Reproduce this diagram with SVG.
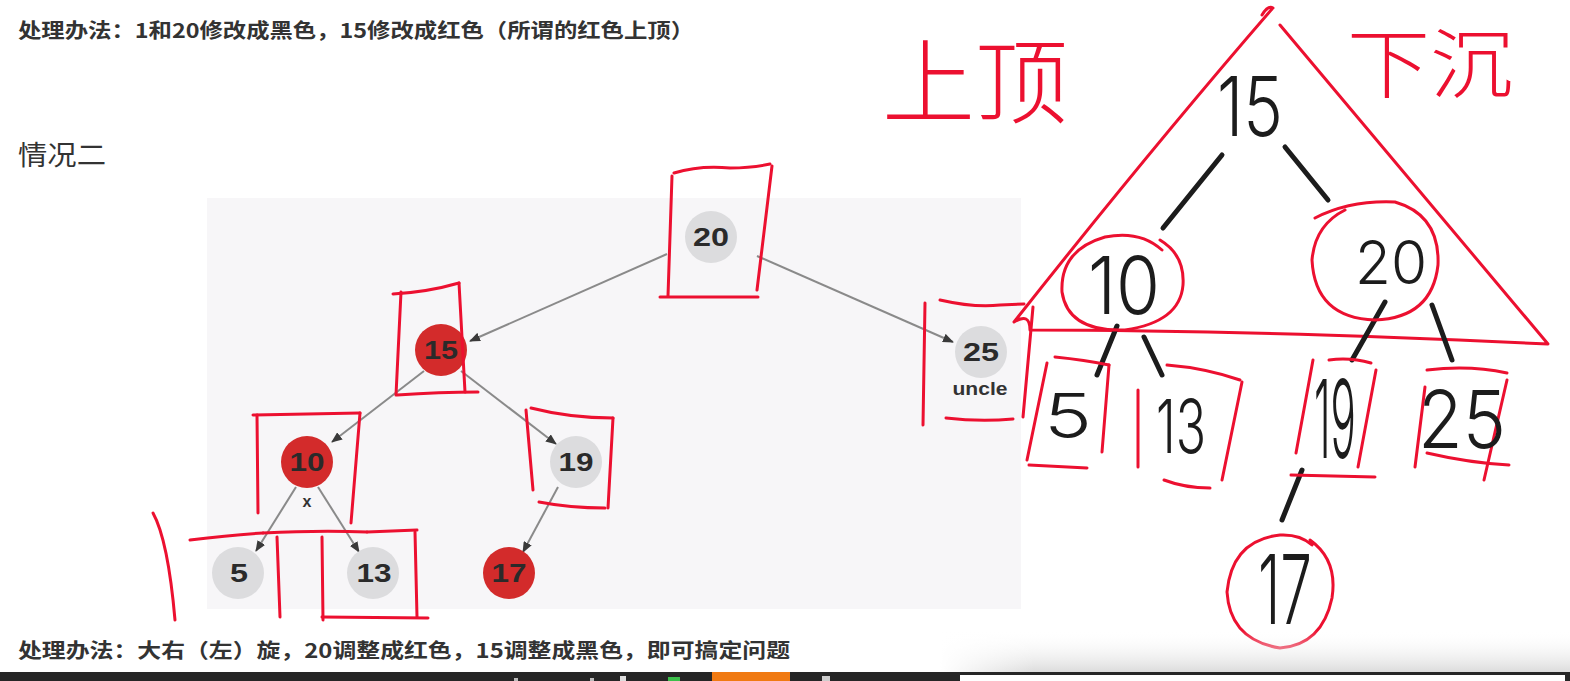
<svg xmlns="http://www.w3.org/2000/svg" width="1570" height="681" viewBox="0 0 1570 681">
<defs>
<marker id="arr" markerUnits="userSpaceOnUse" markerWidth="11" markerHeight="9" refX="10" refY="4.5" orient="auto">
<path d="M0,0 L11,4.5 L0,9 z" fill="#3a3a3a"/>
</marker>
<linearGradient id="shade" x1="0" y1="0" x2="0" y2="1">
<stop offset="0" stop-color="#ffffff" stop-opacity="0"/>
<stop offset="1" stop-color="#dcdcdc"/>
</linearGradient>
<linearGradient id="shadeL" x1="0" y1="0" x2="1" y2="0">
<stop offset="0" stop-color="#ffffff"/>
<stop offset="0.15" stop-color="#ffffff" stop-opacity="0"/>
</linearGradient>
<style>
.doc{font-family:"Noto Sans CJK SC","Liberation Sans",sans-serif;fill:#333}
.nodeG{fill:#dcdcde}
.nodeR{fill:#d32b2b}
.num{font-family:"Liberation Sans",Arial,sans-serif;font-weight:bold;font-size:25px;fill:#2a2a2a;text-anchor:middle}
.lbl{font-family:"Liberation Sans",Arial,sans-serif;font-weight:bold;fill:#333;text-anchor:middle}
.edge{stroke:#8a8a8a;stroke-width:2;fill:none;marker-end:url(#arr)}
.pen{stroke:#ec1030;stroke-width:3;fill:none;stroke-linecap:round;stroke-linejoin:round}
.ink{stroke:#1c1c1c;stroke-width:5;fill:none;stroke-linecap:round}
.hw{font-family:Inter,"Noto Sans","DejaVu Sans",sans-serif;fill:#1c1c1c;font-weight:350}
.hwr{font-family:"Noto Sans CJK SC",sans-serif;fill:#ec1030;font-weight:300}
</style>
</defs>
<rect width="1570" height="681" fill="#ffffff"/>

<!-- document text -->
<text class="doc" x="18" y="38" font-size="20" font-weight="bold" textLength="676" lengthAdjust="spacingAndGlyphs">处理办法：1和20修改成黑色，15修改成红色（所谓的红色上顶）</text>
<text class="doc" x="18" y="165" font-size="27" textLength="88" lengthAdjust="spacingAndGlyphs">情况二</text>
<text class="doc" x="18" y="658" font-size="20" font-weight="bold" textLength="772" lengthAdjust="spacingAndGlyphs">处理办法：大右（左）旋，20调整成红色，15调整成黑色，即可搞定问题</text>

<!-- panel -->
<rect x="207" y="198" width="814" height="411" fill="#f7f6f8"/>

<!-- connectors -->
<g id="connectors">
<path class="edge" d="M667,254 L470,341"/>
<path class="edge" d="M757,256 L953,342"/>
<path class="edge" d="M424,371 L332,442"/>
<path class="edge" d="M461,371 L556,444"/>
<path class="edge" d="M296,487 L256,551"/>
<path class="edge" d="M318,487 L359,552"/>
<path class="edge" d="M558,487 L523,552"/>
</g>

<g id="node-20"><circle class="nodeG" cx="711" cy="237" r="26"/><text class="num" x="711" y="246" textLength="36" lengthAdjust="spacingAndGlyphs">20</text></g>
<g id="node-15"><circle class="nodeR" cx="441" cy="350" r="26"/><text class="num" x="441" y="359" textLength="34" lengthAdjust="spacingAndGlyphs">15</text></g>
<g id="node-25"><circle class="nodeG" cx="981" cy="352" r="26"/><text class="num" x="981" y="361" textLength="36" lengthAdjust="spacingAndGlyphs">25</text><text class="lbl" x="980" y="395" font-size="18" textLength="55" lengthAdjust="spacingAndGlyphs">uncle</text></g>
<g id="node-10"><circle class="nodeR" cx="307" cy="462" r="26"/><text class="num" x="307" y="471" textLength="35" lengthAdjust="spacingAndGlyphs">10</text><text class="lbl" x="307" y="507" font-size="16">x</text></g>
<g id="node-19"><circle class="nodeG" cx="576" cy="462" r="26"/><text class="num" x="576" y="471" textLength="35" lengthAdjust="spacingAndGlyphs">19</text></g>
<g id="node-5"><circle class="nodeG" cx="238" cy="573" r="26"/><text class="num" x="239" y="582" textLength="18" lengthAdjust="spacingAndGlyphs">5</text></g>
<g id="node-13"><circle class="nodeG" cx="373" cy="573" r="26"/><text class="num" x="374" y="582" textLength="35" lengthAdjust="spacingAndGlyphs">13</text></g>
<g id="node-17"><circle class="nodeR" cx="509" cy="573" r="26"/><text class="num" x="509" y="582" textLength="35" lengthAdjust="spacingAndGlyphs">17</text></g>

<!-- red pen annotations over the tree -->
<g id="pen-boxes-left">
<path class="pen" d="M672,176 L668,296"/>
<path class="pen" d="M674,173 Q700,165 730,168 Q752,168 770,164"/>
<path class="pen" d="M772,166 L757,290"/>
<path class="pen" d="M660,297 L758,297"/>

<path class="pen" d="M401,292 L396,395"/>
<path class="pen" d="M393,294 Q428,292 459,283"/>
<path class="pen" d="M459,283 L465,392"/>
<path class="pen" d="M397,395 Q440,392 478,392" stroke-width="5"/>

<path class="pen" d="M925,303 L923,425"/>
<path class="pen" d="M940,300 Q975,308 1000,305 L1024,304"/>
<path class="pen" d="M1033,307 L1023,417"/>
<path class="pen" d="M946,418 Q980,422 1013,419"/>

<path class="pen" d="M257,415 L258,513"/>
<path class="pen" d="M253,415 L360,413"/>
<path class="pen" d="M360,413 L351,523"/>

<path class="pen" d="M153,513 Q168,540 175,620"/>
<path class="pen" d="M190,540 Q230,535 263,533"/>
<path class="pen" d="M263,533 Q320,530 367,532" stroke-width="6"/>
<path class="pen" d="M367,532 L417,530"/>
<path class="pen" d="M277,537 L280,617"/>
<path class="pen" d="M322,537 L323,620"/>
<path class="pen" d="M415,532 L417,617"/>
<path class="pen" d="M322,617 L428,618"/>

<path class="pen" d="M526,410 L533,490"/>
<path class="pen" d="M531,408 Q570,418 613,418"/>
<path class="pen" d="M613,418 L608,508"/>
<path class="pen" d="M539,502 Q570,508 605,508" stroke-width="4"/>
</g>

<!-- handwritten sketch on the right -->
<g id="sketch-triangle">
<path class="pen" d="M1262,15 Q1268,5 1273,8 M1272,9 Q1150,150 1014,322 Q1030,312 1030,330 Q1250,330 1548,344 L1280,25"/>
</g>
<g id="sketch-labels">
<text class="hwr" x="882" y="116" font-size="92" textLength="186" lengthAdjust="spacingAndGlyphs">上顶</text>
<text class="hwr" x="1347" y="92" font-size="76" textLength="166" lengthAdjust="spacingAndGlyphs">下沉</text>
</g>
<g id="sketch-15"><text class="hw" x="1217" y="136" font-size="82" textLength="66" lengthAdjust="spacingAndGlyphs">15</text></g>
<g id="sketch-lines">
<path class="ink" d="M1163,228 L1222,155"/>
<path class="ink" d="M1285,147 L1328,200" stroke-width="3.5"/>
<path class="ink" d="M1117,326 L1097,375"/>
<path class="ink" d="M1144,337 L1162,375" stroke-width="3.5"/>
<path class="ink" d="M1385,302 L1352,360"/>
<path class="ink" d="M1432,305 L1452,360" stroke-width="3.5"/>
<path class="ink" d="M1302,470 L1282,520"/>
</g>
<g id="sketch-10">
<path class="pen" d="M1160,240 Q1185,255 1183,285 Q1180,322 1125,330 Q1068,332 1062,292 Q1060,250 1105,237 Q1140,230 1162,250"/>
<text class="hw" x="1088" y="314" font-size="80" textLength="72" lengthAdjust="spacingAndGlyphs">10</text>
</g>
<g id="sketch-20">
<path class="pen" d="M1315,218 Q1350,200 1395,202 Q1440,215 1438,265 Q1432,318 1375,320 Q1315,318 1312,260 Q1315,225 1345,210"/>
<text class="hw" x="1355" y="284" font-size="60" textLength="72" lengthAdjust="spacingAndGlyphs">20</text>
</g>
<g id="sketch-5">
<path class="pen" d="M1047,363 L1027,460"/>
<path class="pen" d="M1055,357 Q1085,360 1109,365"/>
<path class="pen" d="M1109,365 L1102,452"/>
<path class="pen" d="M1029,465 L1087,468"/>
<text class="hw" x="1044" y="438" font-size="62" textLength="48" lengthAdjust="spacingAndGlyphs">5</text>
</g>
<g id="sketch-13">
<path class="pen" d="M1138,390 L1138,467"/>
<path class="pen" d="M1167,365 Q1205,368 1240,380"/>
<path class="pen" d="M1242,382 L1222,480"/>
<path class="pen" d="M1164,480 Q1185,488 1210,488"/>
<text class="hw" x="1156" y="453" font-size="74" textLength="50" lengthAdjust="spacingAndGlyphs">13</text>
</g>
<g id="sketch-19">
<path class="pen" d="M1313,360 L1296,453"/>
<path class="pen" d="M1329,360 Q1350,357 1371,363"/>
<path class="pen" d="M1376,370 L1358,467"/>
<path class="pen" d="M1291,475 L1375,477" stroke-width="4"/>
<text class="hw" x="1314" y="458" font-size="108" textLength="42" lengthAdjust="spacingAndGlyphs">19</text>
</g>
<g id="sketch-25">
<path class="pen" d="M1427,370 Q1470,365 1507,373"/>
<path class="pen" d="M1425,387 L1415,467"/>
<path class="pen" d="M1507,380 L1484,480"/>
<path class="pen" d="M1427,453 Q1470,463 1509,465" stroke-width="4"/>
<text class="hw" x="1418" y="448" font-size="80" textLength="88" lengthAdjust="spacingAndGlyphs">25</text>
</g>
<g id="sketch-17">
<path class="pen" d="M1310,540 Q1338,560 1332,598 Q1322,645 1280,648 Q1230,640 1227,592 Q1232,540 1280,535 Q1300,534 1312,545"/>
<text class="hw" x="1258" y="624" font-size="96" textLength="54" lengthAdjust="spacingAndGlyphs">17</text>
</g>

<!-- screen chrome at bottom -->
<rect x="940" y="630" width="630" height="42" fill="url(#shade)"/>
<rect x="940" y="630" width="630" height="42" fill="url(#shadeL)"/>
<rect x="0" y="672" width="1570" height="9" fill="#262626"/>
<rect x="712" y="672" width="78" height="9" fill="#f07a12"/>
<rect x="960" y="675" width="605" height="6" fill="#ffffff"/>
<rect x="514" y="678" width="4" height="3" fill="#bbbbbb"/>
<rect x="590" y="678" width="4" height="3" fill="#bbbbbb"/>
<rect x="620" y="676" width="6" height="5" fill="#dddddd"/>
<rect x="668" y="677" width="12" height="4" fill="#3bbf4a"/>
<rect x="822" y="676" width="8" height="5" fill="#cccccc"/>
</svg>
